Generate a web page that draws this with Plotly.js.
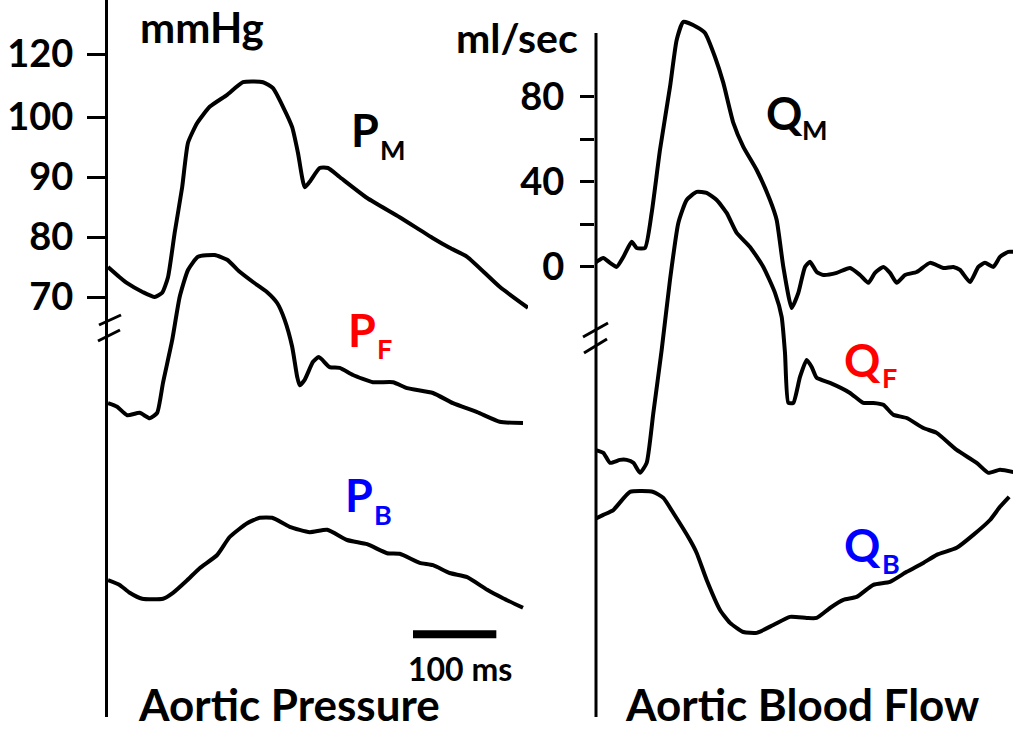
<!DOCTYPE html>
<html>
<head>
<meta charset="utf-8">
<script src="https://cdn.plot.ly/plotly-3.0.1.min.js"></script>
<style>
  html, body { margin: 0; padding: 0; background: #ffffff; }
  #chart { width: 1013px; height: 732px; }
</style>
</head>
<body>
<div id="chart"></div>
<script>
// ---- Aortic pressure (time in ms, pressure in mmHg display units) ----
const pmTime = [0,14,23,42,56,65,72,80,89,96,107,122,143,162,186,198,210,221,228,236,242,254,264,278,311,350,390,410,431,470,504];
const pmValue = [75.0,73.3,72.3,70.8,70.0,70.7,73.3,80.7,88.3,95.7,99.0,101.7,103.7,105.8,105.8,104.8,101.7,98.3,94.0,88.3,89.2,91.5,91.5,90.0,86.5,83.3,79.8,78.2,76.7,71.7,68.2];

const pfTime = [0,11,23,38,50,59,66,77,86,96,108,128,143,158,174,191,203,212,221,227,230,236,246,253,266,278,294,318,342,359,390,414,443,470,498];
const pfValue = [52.3,51.7,50.3,50.7,49.8,50.7,55.7,62.8,70.0,74.5,76.7,77.0,76.2,74.2,72.5,70.8,69.0,66.2,61.7,56.7,55.3,56.2,59.2,60.0,58.3,58.2,57.0,55.8,55.8,54.8,54.0,52.3,50.8,49.2,49.0];

const pbTime = [0,14,26,41,66,78,95,110,131,146,167,182,197,218,242,263,287,311,335,350,374,390,410,431,455,474,498];
const pbValue = [22.8,22.0,20.7,19.7,19.7,20.7,22.8,24.8,27.0,30.0,32.3,33.2,33.2,31.7,30.8,31.2,29.5,28.8,27.3,27.2,25.7,25.3,24.0,23.3,21.2,19.8,18.2];

// ---- Aortic blood flow (time in ms, flow in ml/sec display units) ----
const qmTime = [0,10,18,26,34,44,50,60,68,78,90,98,106,122,132,144,154,166,178,194,210,218,226,236,244,252,258,266,274,290,306,318,328,336,346,354,362,372,386,402,418,430,438,450,460,468,478,486,496,502];
const qmValue = [1.9,4.2,1.9,0,4.7,11.8,8.9,8.9,25.4,55.1,84.7,106.8,115.3,112.9,110.1,98.8,86.6,67.8,56.5,45.6,31.5,22.1,0,-19.3,-12.2,0,2.4,-2.4,-3.8,-2.8,-0.5,-3.8,-7.5,-2.8,0,-2.8,-7.5,-3.8,-2.4,1.9,-0.5,0,-1.4,-7.1,0,1.9,0,4.7,7.1,7.1];

const qfTime = [0,10,18,30,38,46,54,62,70,80,90,100,110,122,134,146,158,170,186,202,216,224,228,232,238,246,254,260,266,282,306,322,334,346,358,374,394,410,434,458,472,486,502];
const qfValue = [-86.1,-87.5,-92.2,-90.8,-90.8,-92.2,-96.9,-92.2,-68.7,-39.1,-6.1,20.7,31.5,35.3,34.8,31.5,25.4,16.0,9.4,0,-12.2,-23.5,-40.5,-64.0,-64.0,-51.8,-43.8,-47.1,-52.2,-54.6,-59.3,-64.0,-64.0,-64.9,-69.6,-71.1,-75.8,-78.1,-86.1,-92.2,-96.9,-95.5,-96.5];

const qbTime = [0,10,22,42,70,82,94,114,122,134,150,162,178,194,214,234,254,266,282,298,314,334,354,374,394,410,434,454,474,486,497];
const qbValue = [-118.6,-116.7,-114.4,-105.9,-105.9,-108.7,-115.8,-128.5,-134.6,-147.3,-161.4,-167.5,-171.8,-172.2,-168.5,-164.7,-165.2,-165.2,-160.5,-156.7,-155.3,-149.6,-148.2,-143.5,-139.3,-135.5,-132.2,-126.1,-119.1,-112.9,-108.2];

// ---- Tick labels ----
const pressureTickVals = [70, 80, 90, 100, 110.5];
const pressureTickText = ['70', '80', '90', '100', '120'];
const flowTickVals = [0, 20, 40, 60, 80];
const flowTickText = ['0', '', '40', '', '80'];

const scaleBarMs = 100;
const scaleBarStart = 366;
const scaleBarLevel = 13.8;

// flow axis line spans this part of the flow scale
const flowAxisSpan = [-211.8, 110.1];

// ---- Layout helpers (pixel -> paper fraction) ----
const W = 1013, H = 732;
const fx = v => v / W;
const fy = v => 1 - v / H;
const FONT = 'Lato, "Open Sans", sans-serif';
const RED = '#ff0000', BLUE = '#0000ff', INK = '#000000';

function curve(x, y, xa, ya) {
  return {
    x: x, y: y, xaxis: xa, yaxis: ya, type: 'scatter', mode: 'lines',
    line: { color: INK, width: 4, shape: 'spline', smoothing: 0.5 },
    hoverinfo: 'skip'
  };
}

const data = [
  curve(pmTime, pmValue, 'x', 'y'),
  curve(pfTime, pfValue, 'x', 'y'),
  curve(pbTime, pbValue, 'x', 'y'),
  curve(qmTime, qmValue, 'x2', 'y2'),
  curve(qfTime, qfValue, 'x2', 'y2'),
  curve(qbTime, qbValue, 'x2', 'y2')
];

const hiddenX = { showline: false, showticklabels: false, showgrid: false, zeroline: false, ticks: '' };
const yBase = {
  linewidth: 3, linecolor: INK,
  ticks: 'outside', tickwidth: 3, tickcolor: INK,
  showgrid: false, zeroline: false,
  tickfont: { family: FONT, size: 38, color: INK, weight: 700 }
};

function label(text, x, y, size, color, anchor, yanchor) {
  return {
    text: text, x: fx(x), y: fy(y), xref: 'paper', yref: 'paper',
    xanchor: anchor || 'left', yanchor: yanchor || 'middle', showarrow: false,
    font: { family: FONT, size: size, color: color, weight: 700 }
  };
}

function slash(x0, y0, x1, y1) {
  return { type: 'line', xref: 'paper', yref: 'paper',
           x0: fx(x0), y0: fy(y0), x1: fx(x1), y1: fy(y1),
           line: { color: INK, width: 3 } };
}

const layout = {
  width: W, height: H,
  margin: { l: 0, r: 0, t: 0, b: 0 },
  paper_bgcolor: '#ffffff', plot_bgcolor: 'rgba(0,0,0,0)',
  showlegend: false,
  xaxis: Object.assign({ domain: [fx(108), fx(528)], range: [0, 504], anchor: 'y' }, hiddenX),
  yaxis: Object.assign({}, yBase, {
    showline: true,
    domain: [1 - 717 / H, 1], range: [0, 119.5], anchor: 'x',
    tickvals: pressureTickVals, ticktext: pressureTickText,
    ticklen: 18, ticklabelstandoff: 6
  }),
  xaxis2: Object.assign({ domain: [fx(595), 1], range: [0, 501.6], anchor: 'y2' }, hiddenX),
  yaxis2: Object.assign({}, yBase, {
    showline: false,
    domain: [1 - 717 / H, 1], range: [-211.8, 125.6], anchor: 'x2',
    tickvals: flowTickVals, ticktext: flowTickText,
    ticklen: 14, ticklabelstandoff: 8
  }),
  shapes: [
    { type: 'line', xref: 'paper', yref: 'y2', x0: fx(596), x1: fx(596),
      y0: flowAxisSpan[0], y1: flowAxisSpan[1], line: { color: INK, width: 3 } },
    slash(99, 325, 121, 315),
    slash(98, 341, 120, 330),
    slash(583, 337, 608, 323),
    slash(584, 353, 607, 339),
    { type: 'line', xref: 'x', yref: 'y',
      x0: scaleBarStart, x1: scaleBarStart + scaleBarMs, y0: scaleBarLevel, y1: scaleBarLevel,
      line: { color: INK, width: 8 } }
  ],
  annotations: [
    label('mmHg', 138, 27, 42, INK),
    label('ml/sec', 454, 38, 41, INK),
    label('P', 349, 130, 45, INK),
    label('M', 378, 149, 27, INK),
    label('P', 346, 330, 45, RED),
    label('F', 375, 349, 27, RED),
    label('P', 343, 495, 45, BLUE),
    label('B', 372, 514, 27, BLUE),
    label('Q', 764, 113, 45, INK),
    label('M', 800, 130, 27, INK),
    label('Q', 842, 360, 45, RED),
    label('F', 880, 377, 27, RED),
    label('Q', 842, 545, 45, BLUE),
    label('B', 880, 563, 27, BLUE),
    label('100 ms', 460, 668, 32, INK, 'center'),
    label('Aortic Pressure', 289, 732, 44, INK, 'center', 'bottom'),
    label('Aortic Blood Flow', 802, 732, 44, INK, 'center', 'bottom')
  ]
};

Plotly.newPlot('chart', data, layout, { staticPlot: true, displayModeBar: false });
</script>
</body>
</html>
